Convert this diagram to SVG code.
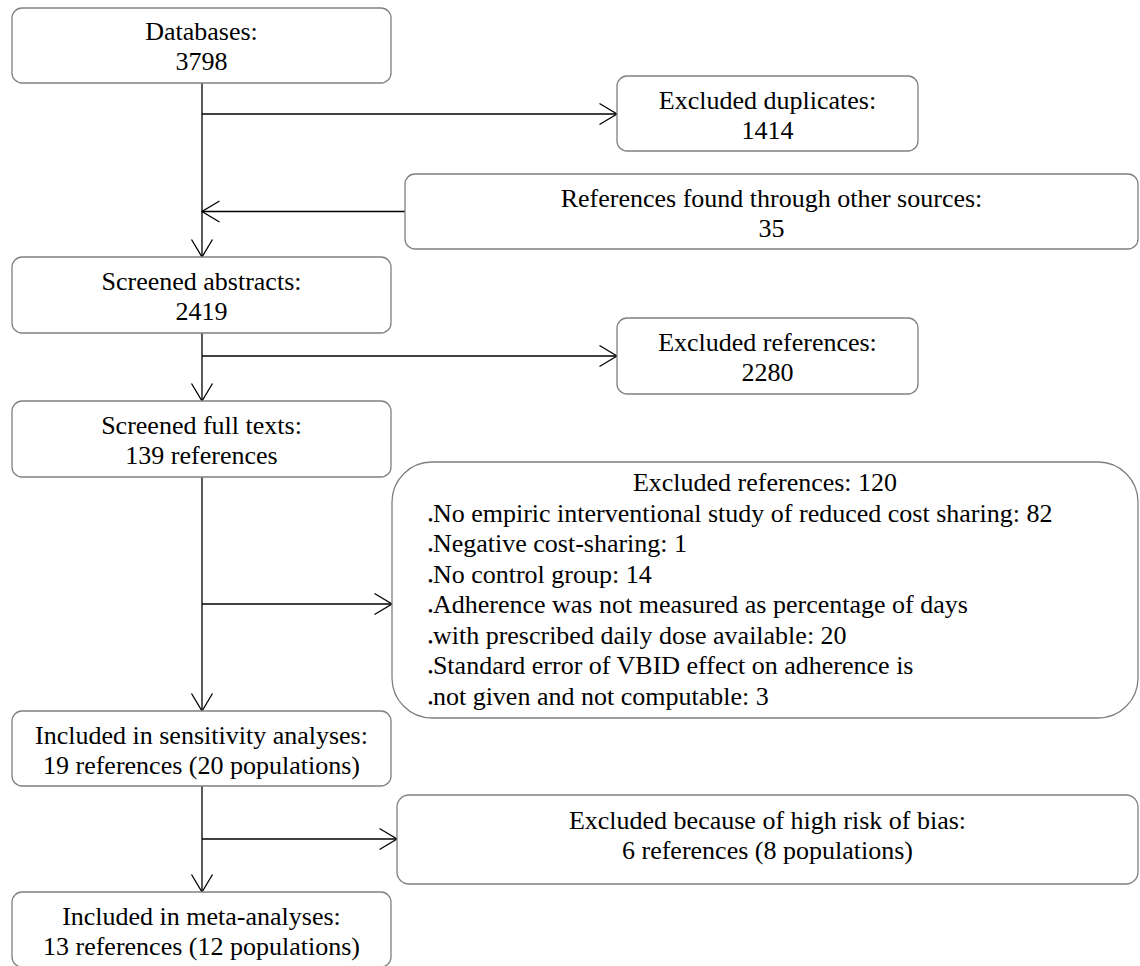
<svg xmlns="http://www.w3.org/2000/svg" width="1140" height="966" viewBox="0 0 1140 966">
<style>
.box{fill:#fff;stroke:#808080;stroke-width:1.3}
.t{font-family:"Liberation Serif","Times New Roman",serif;font-size:26px;fill:#000}
.c{text-anchor:middle}
.b{font-size:14px}
.ln{fill:none;stroke:#000;stroke-width:1.3;marker-end:url(#arr)}
</style>
<defs>
<marker id="arr" markerUnits="userSpaceOnUse" markerWidth="22" markerHeight="24" refX="19" refY="12" orient="auto">
<path d="M1.5,1.5 L19,12 L1.5,22.5" fill="none" stroke="#000" stroke-width="1.3"/>
</marker>
</defs>
<rect width="1140" height="966" fill="#fff"/>
<g id="connectors">
<line class="ln" x1="202" y1="83" x2="202" y2="257"/>
<line class="ln" x1="202" y1="114" x2="617" y2="114"/>
<line class="ln" x1="405" y1="211.5" x2="202" y2="211.5"/>
<line class="ln" x1="202" y1="333" x2="202" y2="401"/>
<line class="ln" x1="202" y1="356" x2="617" y2="356"/>
<line class="ln" x1="202" y1="477" x2="202" y2="711"/>
<line class="ln" x1="202" y1="604" x2="392" y2="604"/>
<line class="ln" x1="202" y1="786" x2="202" y2="892"/>
<line class="ln" x1="202" y1="839" x2="397" y2="839"/>
</g>
<g id="databases">
<rect class="box" x="12" y="8" width="379" height="75" rx="10"/>
<text class="t c" x="201.5" y="40">Databases:</text>
<text class="t c" x="201.5" y="70">3798</text>
</g>
<g id="excluded-duplicates">
<rect class="box" x="617" y="76" width="301" height="75" rx="10"/>
<text class="t c" x="767.5" y="109">Excluded duplicates:</text>
<text class="t c" x="767.5" y="139">1414</text>
</g>
<g id="other-sources">
<rect class="box" x="405" y="174" width="733" height="75" rx="10"/>
<text class="t c" x="771.5" y="207">References found through other sources:</text>
<text class="t c" x="771.5" y="237">35</text>
</g>
<g id="screened-abstracts">
<rect class="box" x="12" y="257" width="379" height="76" rx="10"/>
<text class="t c" x="201.5" y="290">Screened abstracts:</text>
<text class="t c" x="201.5" y="320">2419</text>
</g>
<g id="excluded-references">
<rect class="box" x="617" y="318" width="301" height="76" rx="10"/>
<text class="t c" x="767.5" y="351">Excluded references:</text>
<text class="t c" x="767.5" y="381">2280</text>
</g>
<g id="screened-full-texts">
<rect class="box" x="12" y="401" width="379" height="76" rx="10"/>
<text class="t c" x="201.5" y="434">Screened full texts:</text>
<text class="t c" x="201.5" y="464">139 references</text>
</g>
<g id="excluded-120">
<rect class="box" x="392" y="462" width="746" height="256" rx="40"/>
<text class="t c" x="765" y="491">Excluded references: 120</text>
<text class="t" x="428" y="522"><tspan class="b" dy="3">•</tspan><tspan dy="-3">No empiric interventional study of reduced cost sharing: 82</tspan></text>
<text class="t" x="428" y="552"><tspan class="b" dy="3">•</tspan><tspan dy="-3">Negative cost-sharing: 1</tspan></text>
<text class="t" x="428" y="583"><tspan class="b" dy="3">•</tspan><tspan dy="-3">No control group: 14</tspan></text>
<text class="t" x="428" y="613"><tspan class="b" dy="3">•</tspan><tspan dy="-3">Adherence was not measured as percentage of days</tspan></text>
<text class="t" x="428" y="644"><tspan class="b" dy="3">•</tspan><tspan dy="-3">with prescribed daily dose available: 20</tspan></text>
<text class="t" x="428" y="674"><tspan class="b" dy="3">•</tspan><tspan dy="-3">Standard error of VBID effect on adherence is</tspan></text>
<text class="t" x="428" y="705"><tspan class="b" dy="3">•</tspan><tspan dy="-3">not given and not computable: 3</tspan></text>
</g>
<g id="sensitivity">
<rect class="box" x="12" y="711" width="379" height="75" rx="10"/>
<text class="t c" x="201.5" y="744">Included in sensitivity analyses:</text>
<text class="t c" x="201.5" y="774">19 references (20 populations)</text>
</g>
<g id="excluded-bias">
<rect class="box" x="397" y="795" width="741" height="89" rx="12"/>
<text class="t c" x="767.5" y="829">Excluded because of high risk of bias:</text>
<text class="t c" x="767.5" y="859">6 references (8 populations)</text>
</g>
<g id="meta">
<rect class="box" x="12" y="892" width="379" height="75" rx="10"/>
<text class="t c" x="201.5" y="925">Included in meta-analyses:</text>
<text class="t c" x="201.5" y="955">13 references (12 populations)</text>
</g>
</svg>
